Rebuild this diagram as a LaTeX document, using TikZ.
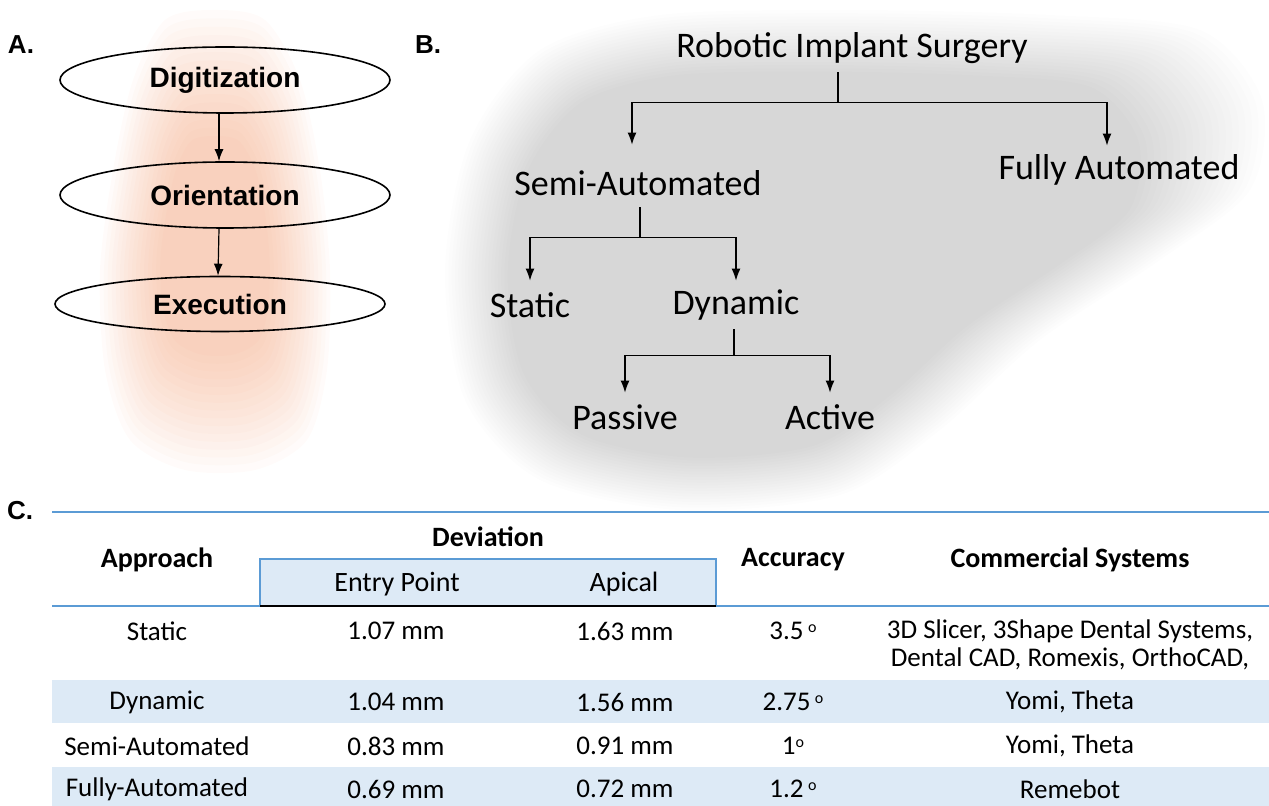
\documentclass[tikz,border=0pt]{standalone}
\usepackage{fontspec}
\setmainfont{Carlito}
\newfontfamily\arialfont{Liberation Sans}
\usetikzlibrary{shapes.geometric,arrows.meta,positioning}
\definecolor{tblblue}{RGB}{91,155,213}
\definecolor{rowshade}{RGB}{221,234,246}
\definecolor{peach}{RGB}{240,140,90}
\newcommand{\degsup}{\raisebox{0.55ex}{\fontsize{8}{8}\selectfont o}}
\tikzset{
  panel/.style={font=\arialfont\bfseries\fontsize{13}{15}\selectfont},
  stage/.style={draw, thick, ellipse, inner sep=2pt, minimum width=165pt, minimum height=33pt,
    font=\arialfont\bfseries\fontsize{14}{16}\selectfont},
  branch/.style={font=\fontsize{18}{21}\selectfont, inner sep=0pt, minimum height=24pt},
  arr/.style={-{Latex[length=6pt,width=4.5pt]}, semithick},
  hcell/.style={font=\bfseries\fontsize{14}{17}\selectfont},
  cell/.style={font=\fontsize{13.5}{14}\selectfont, align=center},
}

\begin{document}
\begin{tikzpicture}[x=0.5pt, y=-0.5pt]
    \useasboundingbox (0,0) rectangle (1269,806);

    \foreach \k [evaluate=\k as \s using 1-0.035*\k] in {0,...,15}
        \fill[peach, opacity=0.03, shift={(215,250)}, scale=\s] plot[smooth cycle] coordinates {
            (0,-240) (50,-230) (85,-170) (105,-80) (115,20) (112,120) (92,190) (40,220)
            (-30,220) (-85,190) (-110,120) (-115,20) (-102,-80) (-82,-170) (-50,-230)};
    \foreach \k [evaluate=\k as \s using 1-0.012*\k] in {0,...,19}
        \fill[black, opacity=0.0075, shift={(720,280)}, scale=\s] plot[smooth cycle] coordinates {
            (-250,-140) (-180,-230) (-60,-265) (130,-270) (330,-265) (480,-250) (542,-180)
            (530,-90) (440,-20) (320,60) (220,150) (120,215) (-40,230) (-180,200) (-255,120) (-275,-10)};

    \node[panel] (labA) at (21,45) {A.};
    \node[stage] (digit) at (225,80) {Digitization};
    \node[stage] (orient) at (225,195) {Orientation};
    \node[stage, minimum height=27.5pt] (exec) at (220,304) {Execution};
    \draw[arr] ([xshift=-3pt]digit.south) -- ([xshift=-3pt]orient.north);
    \draw[arr] ([xshift=-3pt]orient.south) -- ([xshift=-1pt]exec.north);

    \node[panel] (labB) at (428,45) {B.};
    \node[branch] (ris) at (852,48) {Robotic Implant Surgery};
    \node[branch] (semi) at (638,183) {Semi-Automated};
    \node[branch] (fully) at (1119,170) {Fully Automated};
    \node[branch] (static) at (530,305) {Static};
    \node[branch] (dynamic) at (736,305) {Dynamic};
    \node[branch] (passive) at (625,417) {Passive};
    \node[branch] (active) at (830,417) {Active};

    \draw[semithick] ([xshift=-7pt]ris.south) -- ++(0,30) coordinate (risj);
    \draw[arr] (risj) -| ([xshift=-3pt,yshift=7pt]semi.north);
    \draw[arr] (risj) -| ([xshift=-6pt]fully.north);
    \draw[semithick] ([xshift=1pt]semi.south) -- ++(0,30) coordinate (semij);
    \draw[arr] (semij) -| (static.north);
    \draw[arr] (semij) -| (dynamic.north);
    \draw[semithick] ([xshift=-1pt]dynamic.south) -- ++(0,26) coordinate (dynj);
    \draw[arr] (dynj) -| (passive.north);
    \draw[arr] (dynj) -| (active.north);

    \node[panel] (labC) at (20,511) {C.};
    \fill[rowshade] (260,559) rectangle (716,606);
    \fill[rowshade] (52,680) rectangle (1269,723);
    \fill[rowshade] (52,767) rectangle (1269,806);
    \draw[tblblue, line width=1pt] (52,512) -- (1269,512);
    \draw[tblblue, line width=1pt] (52,606) -- (260,606) (716,606) -- (1269,606);
    \draw[tblblue, line width=0.8pt] (260,606) -- (260,559) -- (716,559) -- (716,606);
    \draw[black, line width=1.2pt] (260,606) -- (716,606);

    \node[hcell] (hApproach) at (157,560) {Approach};
    \node[hcell] (hDeviation) at (488,537) {Deviation};
    \node[cell, font=\fontsize{14}{17}\selectfont] (hEntry) at (397,584) {Entry Point};
    \node[cell, font=\fontsize{14}{17}\selectfont] (hApical) at (624,584) {Apical};
    \node[hcell] (hAccuracy) at (793,560) {Accuracy};
    \node[hcell] (hSystems) at (1070,560) {Commercial Systems};

    \node[cell] (static-app) at (157,631) {Static};
    \node[cell] (static-ent) at (396,631) {1.07 mm};
    \node[cell] (static-apc) at (625,631) {1.63 mm};
    \node[cell] (static-acc) at (793,631) {3.5\,\degsup};
    \node[cell] (static-sys) at (1070,645) {3D Slicer, 3Shape Dental Systems,\\Dental CAD, Romexis, OrthoCAD,};

    \node[cell] (dyn-app) at (157,702) {Dynamic};
    \node[cell] (dyn-ent) at (396,702) {1.04 mm};
    \node[cell] (dyn-apc) at (625,702) {1.56 mm};
    \node[cell] (dyn-acc) at (793,702) {2.75\,\degsup};
    \node[cell] (dyn-sys) at (1070,702) {Yomi, Theta};

    \node[cell] (semi-app) at (157,746) {Semi-Automated};
    \node[cell] (semi-ent) at (396,746) {0.83 mm};
    \node[cell] (semi-apc) at (625,746) {0.91 mm};
    \node[cell] (semi-acc) at (793,746) {1\degsup};
    \node[cell] (semi-sys) at (1070,746) {Yomi, Theta};

    \node[cell] (fully-app) at (157,789) {Fully-Automated};
    \node[cell] (fully-ent) at (396,789) {0.69 mm};
    \node[cell] (fully-apc) at (625,789) {0.72 mm};
    \node[cell] (fully-acc) at (793,789) {1.2\,\degsup};
    \node[cell] (fully-sys) at (1070,789) {Remebot};
\end{tikzpicture}
\end{document}
